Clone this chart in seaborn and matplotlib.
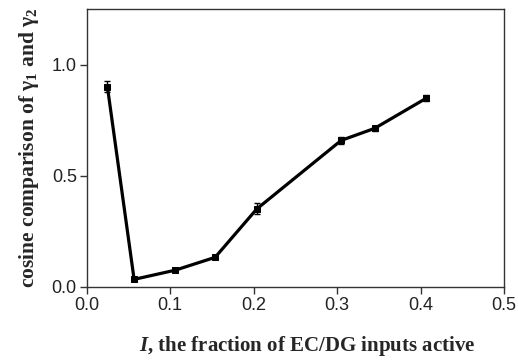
import numpy as np
import pandas as pd
import matplotlib
matplotlib.use('Agg')
import matplotlib.pyplot as plt
import seaborn as sns

# values
frac_active = [0.025, 0.057, 0.106, 0.154, 0.204, 0.305, 0.345, 0.407]
cosine = [0.901, 0.034, 0.075, 0.133, 0.351, 0.659, 0.713, 0.849]
cosine_err = [0.025, 0.006, 0.006, 0.006, 0.025, 0.015, 0.012, 0.012]

sns.set_style('ticks')
plt.rcParams['font.family'] = ['Liberation Sans', 'DejaVu Sans']
plt.rcParams['mathtext.fontset'] = 'custom'
plt.rcParams['mathtext.rm'] = 'Liberation Serif:bold'
plt.rcParams['mathtext.it'] = 'Liberation Serif:italic:bold'
plt.rcParams['mathtext.bf'] = 'Liberation Serif:bold'
plt.rcParams['mathtext.bfit'] = 'Liberation Serif:italic:bold'

df = pd.DataFrame({'I': frac_active, 'cos': cosine, 'err': cosine_err})

fig = plt.figure(figsize=(5.18, 3.6), dpi=100)
ax = fig.add_axes([0.167, 0.203, 0.806, 0.772])

ax.errorbar(df['I'], df['cos'], yerr=df['err'], fmt='none', ecolor='black',
            elinewidth=1.0, capsize=2.5, capthick=1.0, zorder=2)
sns.lineplot(x='I', y='cos', data=df, ax=ax, color='black', linewidth=2.3,
             marker='s', markersize=5, markeredgecolor='black', zorder=3)

ax.set_xlim(0, 0.5)
ax.set_ylim(0, 1.25)
ax.set_xticks([0.0, 0.1, 0.2, 0.3, 0.4, 0.5])
ax.set_xticklabels(['0.0', '0.1', '0.2', '0.3', '0.4', '0.5'])
ax.set_yticks([0.0, 0.5, 1.0])
ax.set_yticklabels(['0.0', '0.5', '1.0'])
ax.tick_params(direction='out', length=5, width=1, labelsize=13, pad=2,
               colors='#333333', labelcolor='#222222')
for s in ax.spines.values():
    s.set_linewidth(1.0)
    s.set_color('#333333')

ax.set_xlabel(r'$\mathbfit{I}$, the fraction of EC/DG inputs active',
              family='Liberation Serif', fontweight='bold', fontsize=15, labelpad=15)
ax.xaxis.label.set_x(0.529)
ax.set_ylabel(r'cosine comparison of $\mathrm{\gamma_1}$ and $\mathrm{\gamma_2}$',
              family='Liberation Serif', fontweight='bold', fontsize=15.5, labelpad=8)

fig.savefig('out.png', dpi=100, facecolor='white')
